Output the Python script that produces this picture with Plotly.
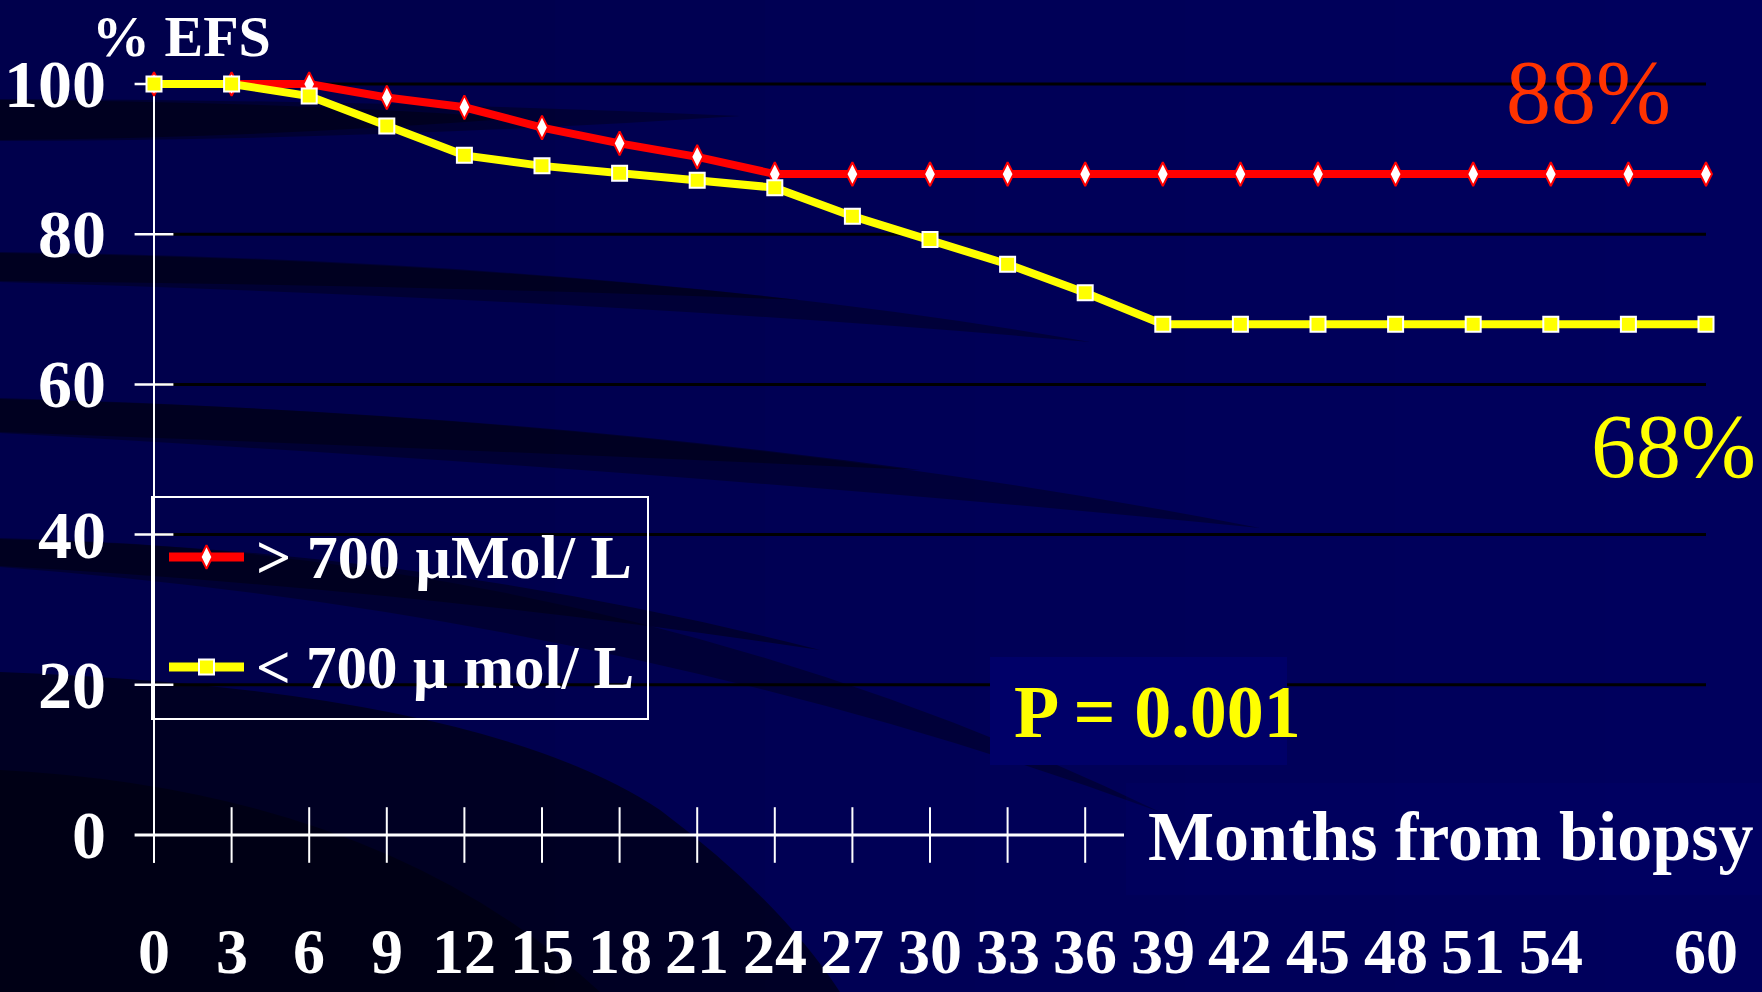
import plotly.graph_objects as go

# ---- data -------------------------------------------------------------
months = list(range(0, 61, 3))
efs_high = [100, 100, 100, 98.2, 96.9, 94.2, 92.1, 90.3, 88,
            88, 88, 88, 88, 88, 88, 88, 88, 88, 88, 88, 88]
efs_low = [100, 100, 98.4, 94.4, 90.5, 89.1, 88.1, 87.2, 86.2, 82.4, 79.3, 76.0, 72.2,
           68, 68, 68, 68, 68, 68, 68, 68]
series_names = ["> 700 \u00b5Mol/ L", "< 700 \u00b5 mol/ L"]
final_values = [88, 68]
p_text = "P = 0.001"
y_tick_values = [0, 20, 40, 60, 80, 100]
grid_values = [20, 40, 60, 80, 100]
x_tick_labels = [0, 3, 6, 9, 12, 15, 18, 21, 24, 27, 30, 33, 36, 39, 42, 45, 48, 51, 54, 60]
x_tick_marks = list(range(0, 37, 3))

# ---- canvas geometry (pixels) -----------------------------------------
W, H = 1762, 992
X0_PX, X60_PX = 154, 1706
Y0_PX, Y100_PX = 835, 84
sx = (X60_PX - X0_PX) / 60.0
sy = (Y0_PX - Y100_PX) / 100.0
x_range = [-X0_PX / sx, (W - X0_PX) / sx]
y_range = [-(H - Y0_PX) / sy, Y0_PX / sy]


def px_x(p):
    return (p - X0_PX) / sx


def px_y(p):
    return (Y0_PX - p) / sy


def pp(x, y):
    return f"{x / W:.4f},{1 - y / H:.4f}"


SERIF = "Liberation Serif, Times New Roman, serif"
WHITE = "#ffffff"
RED = "#ff0000"
YELLOW = "#ffff00"
BG = "#00004c"

shapes = []

# ---- background: soft left-to-right brightening --------------------------
for i in range(12):
    xs = 450 + i * 105
    shapes.append(dict(type="rect", xref="paper", yref="paper", layer="below",
                       x0=xs / W, x1=1, y0=0, y1=1, line_width=0,
                       fillcolor="rgba(0,0,255,0.012)"))


def band(top, bottom, ctrl_top, ctrl_bot, end, alpha):
    """A curved dark band from the left edge tapering to a point."""
    p = (f"M{pp(0, top)} Q{pp(*ctrl_top)} {pp(*end)} "
         f"Q{pp(*ctrl_bot)} {pp(0, bottom)} Z")
    shapes.append(dict(type="path", xref="paper", yref="paper", layer="below",
                       path=p, line_width=0, fillcolor=f"rgba(0,0,14,{alpha})"))


# each band: a long faint sweep plus a shorter, denser core
band(99, 141, (380, 100), (380, 140), (740, 116), 0.4)
band(100, 140, (260, 101), (260, 138), (520, 118), 0.5)

band(252, 282, (620, 260), (620, 300), (1090, 342), 0.4)
band(253, 281, (420, 258), (420, 285), (800, 300), 0.5)

band(398, 433, (700, 418), (700, 472), (1260, 528), 0.4)
band(399, 432, (480, 410), (480, 450), (920, 470), 0.5)

band(538, 567, (620, 552), (620, 614), (1160, 812), 0.4)
band(539, 566, (420, 548), (420, 590), (820, 650), 0.5)

# dark lower-left corner
shapes.append(dict(type="path", xref="paper", yref="paper", layer="below",
                   path=f"M{pp(0,672)} Q{pp(480,690)} {pp(660,810)} Q{pp(780,900)} {pp(840,992)} L{pp(0,992)} Z",
                   line_width=0, fillcolor="rgba(0,0,10,0.62)"))
shapes.append(dict(type="path", xref="paper", yref="paper", layer="below",
                   path=f"M{pp(0,770)} Q{pp(380,790)} {pp(600,992)} L{pp(0,992)} Z",
                   line_width=0, fillcolor="rgba(0,0,8,0.5)"))

# ---- gridlines ---------------------------------------------------------
for g in grid_values:
    shapes.append(dict(type="line", xref="x", yref="y", layer="below",
                       x0=0, x1=60, y0=g, y1=g, line=dict(color="#000000", width=3)))

# lighter panels behind the p-value and the axis title
shapes.append(dict(type="rect", xref="x", yref="y", layer="below",
                   x0=px_x(990), x1=px_x(1287), y0=px_y(765), y1=px_y(657),
                   line_width=0, fillcolor="#000068"))
shapes.append(dict(type="rect", xref="x", yref="y", layer="below",
                   x0=px_x(1126), x1=px_x(W), y0=px_y(895), y1=px_y(783),
                   line_width=0, fillcolor="rgba(0,0,120,0.15)"))

# ---- axes: lines and crossing ticks ------------------------------------
ytick_half = 0.75
xtick_half = 3.7
shapes.append(dict(type="line", xref="x", yref="y", layer="below",
                   x0=0, x1=0, y0=-xtick_half, y1=100, line=dict(color=WHITE, width=2)))
shapes.append(dict(type="line", xref="x", yref="y", layer="below",
                   x0=-ytick_half, x1=37.5, y0=0, y1=0, line=dict(color=WHITE, width=3)))
for t in y_tick_values[1:]:
    shapes.append(dict(type="line", xref="x", yref="y", layer="below",
                       x0=-ytick_half, x1=ytick_half, y0=t, y1=t,
                       line=dict(color=WHITE, width=2.5)))
for m in x_tick_marks:
    shapes.append(dict(type="line", xref="x", yref="y", layer="below",
                       x0=m, x1=m, y0=-xtick_half, y1=xtick_half,
                       line=dict(color=WHITE, width=2)))

# ---- legend box --------------------------------------------------------
LEG_L, LEG_R, LEG_T, LEG_B = 152, 648, 497, 719
leg_rows = [557, 667]
leg_line = (169, 244)
leg_text_x = 254
shapes.append(dict(type="rect", xref="x", yref="y", layer="below",
                   x0=px_x(LEG_L), x1=px_x(LEG_R), y0=px_y(LEG_B), y1=px_y(LEG_T),
                   line=dict(color=WHITE, width=2), fillcolor="rgba(0,0,0,0)"))
for row, col in zip(leg_rows, [RED, YELLOW]):
    shapes.append(dict(type="line", xref="x", yref="y", layer="below",
                       x0=px_x(leg_line[0]), x1=px_x(leg_line[1]),
                       y0=px_y(row), y1=px_y(row), line=dict(color=col, width=9)))

# ---- traces ------------------------------------------------------------
high_marker = dict(symbol="diamond-tall", size=17, color=WHITE, line=dict(color=RED, width=2))
low_marker = dict(symbol="square", size=15, color=YELLOW, line=dict(color=WHITE, width=2))

fig = go.Figure()
fig.add_trace(go.Scatter(x=months, y=efs_high, mode="lines+markers", name=series_names[0],
                         line=dict(color=RED, width=8), marker=high_marker,
                         hoverinfo="x+y"))
fig.add_trace(go.Scatter(x=months, y=efs_low, mode="lines+markers", name=series_names[1],
                         line=dict(color=YELLOW, width=8), marker=low_marker,
                         hoverinfo="x+y"))
leg_mid = px_x((leg_line[0] + leg_line[1]) / 2)
fig.add_trace(go.Scatter(x=[leg_mid], y=[px_y(leg_rows[0])], mode="markers",
                         marker=high_marker, hoverinfo="skip", showlegend=False))
fig.add_trace(go.Scatter(x=[leg_mid], y=[px_y(leg_rows[1])], mode="markers",
                         marker=low_marker, hoverinfo="skip", showlegend=False))

# ---- text --------------------------------------------------------------
ann = []


def text(x, y, s, size, color=WHITE, weight="bold", xanchor="center", family=SERIF):
    ann.append(dict(x=x, y=y, xref="x", yref="y", text=s, showarrow=False,
                    xanchor=xanchor, yanchor="middle",
                    font=dict(family=family, size=size, color=color, weight=weight)))


for t in y_tick_values:
    text(px_x(108), t, str(t), 68, xanchor="right")
for m in x_tick_labels:
    text(m, px_y(951), str(m), 64)

text(px_x(90), px_y(36), "% EFS", 58, xanchor="left")
text(px_x(1146), px_y(836), "Months from biopsy", 70, xanchor="left")
text(px_x(leg_text_x), px_y(leg_rows[0]), series_names[0], 62, xanchor="left")
text(px_x(leg_text_x), px_y(leg_rows[1]), series_names[1], 61, xanchor="left")
text(px_x(1012), px_y(712), p_text, 74, color=YELLOW, xanchor="left")
text(px_x(1588), px_y(92), f"{final_values[0]}%", 90, color="#ff3300", weight="normal")
text(px_x(1673), px_y(446), f"{final_values[1]}%", 90, color=YELLOW, weight="normal")

fig.update_layout(
    width=W, height=H,
    margin=dict(l=0, r=0, t=0, b=0),
    paper_bgcolor=BG, plot_bgcolor="rgba(0,0,0,0)",
    showlegend=False,
    xaxis=dict(range=x_range, visible=False, fixedrange=True),
    yaxis=dict(range=y_range, visible=False, fixedrange=True),
    shapes=shapes, annotations=ann,
    font=dict(family=SERIF),
)

fig.write_html("out.html")
